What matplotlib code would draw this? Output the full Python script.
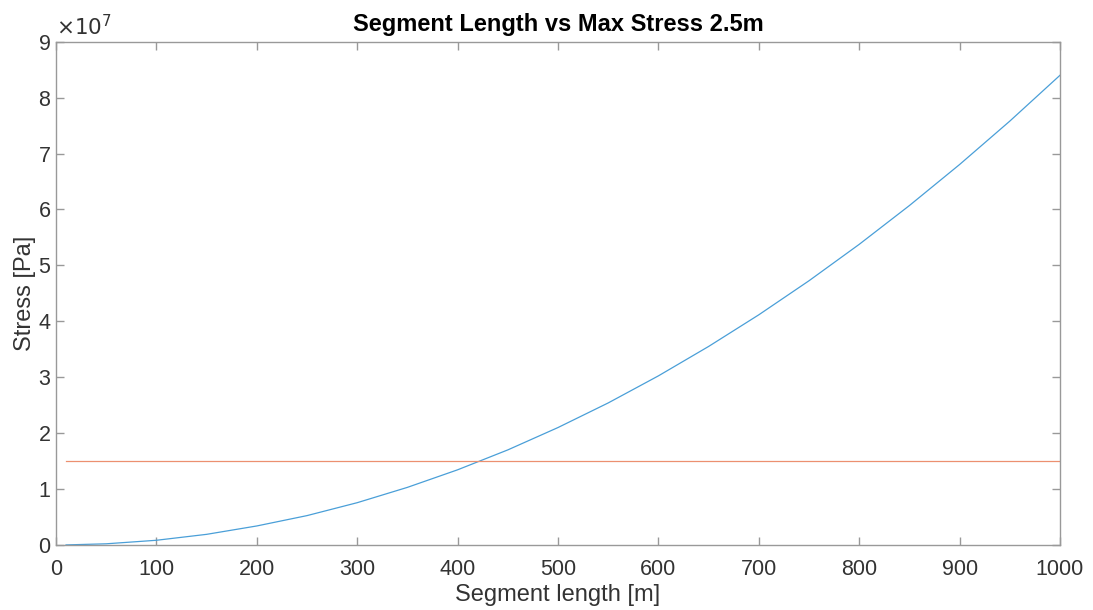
import matplotlib
matplotlib.use("Agg")
import matplotlib.pyplot as plt

# values (stress in units of 1e7 Pa)
seg_length = [10, 50, 100, 150, 200, 250, 300, 350, 400, 450, 500,
              550, 600, 650, 700, 750, 800, 850, 900, 950, 1000]
stress_e7 = [0.001, 0.021, 0.084, 0.19, 0.34, 0.525, 0.756, 1.03, 1.344, 1.70, 2.10,
             2.54, 3.024, 3.55, 4.116, 4.725, 5.376, 6.07, 6.804, 7.58, 8.40]
limit_x = [10, 1000]
limit_e7 = [1.5, 1.5]

plt.rcParams['font.family'] = ['Liberation Sans', 'DejaVu Sans']
text_col = '#333333'
axis_col = '#999999'

fig = plt.figure(figsize=(10.93, 6.10), dpi=100)
ax = fig.add_axes([0.0512, 0.1066, 0.9186, 0.825])

ax.plot(seg_length, stress_e7, color='#4a9fd8', lw=0.9)
ax.plot(limit_x, limit_e7, color='#ec9070', lw=0.9)

ax.set_xlim(0, 1000)
ax.set_ylim(0, 9)
ax.set_xticks(range(0, 1001, 100))
ax.set_yticks(range(0, 10))

for s in ax.spines.values():
    s.set_color(axis_col)
    s.set_linewidth(1.0)
ax.tick_params(direction='in', length=6, width=1.0, color=axis_col,
               labelcolor=text_col, labelsize=15.5, top=True, right=True)
ax.tick_params(axis='x', pad=10)
ax.tick_params(axis='y', pad=4)

ax.set_xlabel('Segment length [m]', fontsize=17, color=text_col, labelpad=3)
ax.set_ylabel('Stress [Pa]', fontsize=17, color=text_col, labelpad=2)
ax.set_title('Segment Length vs Max Stress 2.5m', fontsize=17, fontweight='bold',
             color='black', pad=8)
ax.text(0.0, 1.004, r'$\times10^{7}$', transform=ax.transAxes, fontsize=15.5,
        color=text_col, ha='left', va='bottom')

fig.savefig('out.png', dpi=100)
